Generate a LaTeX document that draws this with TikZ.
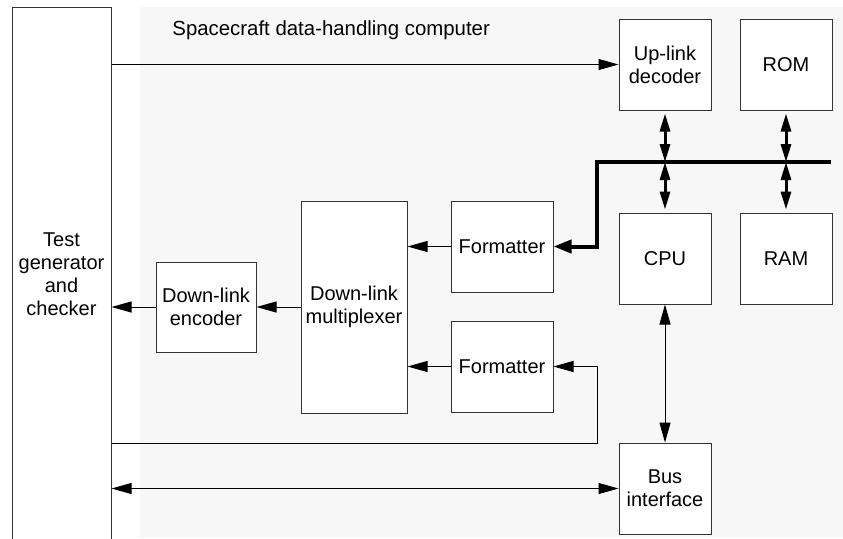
\documentclass[tikz,border=0pt]{standalone}
\usepackage{fontspec}
\setmainfont{Liberation Sans}
\usetikzlibrary{arrows.meta,positioning}
\tikzset{
node distance=60pt, % centre to centre, used with on grid
block/.style={draw=black!80, line width=0.5pt, fill=white, align=center,
  inner sep=1pt, minimum width=46pt, minimum height=45.5pt,
  font=\fontsize{10}{11.5}\selectfont},
link/.style={line width=0.5pt, -{Triangle[length=10pt,width=5.5pt]}},
duplex/.style={line width=0.5pt,
  {Triangle[length=10pt,width=5.5pt]}-{Triangle[length=10pt,width=5.5pt]}},
busline/.style={line width=2pt},
bustap/.style={line width=1.5pt, shorten <=1.5pt,
  {Triangle[length=9pt,width=5pt]}-{Triangle[length=9pt,width=5pt]}},
}

\begin{document}
\begin{tikzpicture}[x=0.5pt,y=-0.5pt,on grid]
   \useasboundingbox (0,0) rectangle (843,538);
   \fill[black!3] (140,7) rectangle (843,538);
   \node[anchor=west, inner sep=0pt, font=\fontsize{10.2}{12}\selectfont] (title) at (172,30) {Spacecraft data-handling computer};

   \node[block, minimum width=49.5pt, minimum height=267pt] (test) at (61.5,274) {Test\\generator\\and\\checker};
   \node[block] (uplink) at (665,64.5) {Up-link\\decoder};
   \node[block] (rom) [right=60.5pt of uplink] {ROM};
   \node[block] (cpu) [below=97pt of uplink] {CPU};
   \node[block] (ram) [right=60.5pt of cpu] {RAM};
   \node[block] (busif) [below=115pt of cpu] {Bus\\interface};
   \node[block, minimum width=51pt] (fmtA) at (502,246.5) {Formatter};
   \node[block, minimum width=51pt] (fmtB) [below=of fmtA] {Formatter};
   \node[block, minimum width=53pt, minimum height=106pt] (mux) at (354,307) {Down-link\\multiplexer};
   \node[block, minimum width=50pt, minimum height=45pt] (enc) [left=74pt of mux] {Down-link\\encoder};

   \coordinate (busR) at (831,162);
   \coordinate (busL) at (597,162);
   \coordinate (loop) at (597,443);

   % data bus and its taps
   \draw[busline, -{Triangle[length=9pt,width=6.5pt]}] (busR) -- (busL) |- (fmtA.east);
   \draw[bustap] (uplink.south) -- (uplink |- busR);
   \draw[bustap] (cpu.north) -- (cpu |- busR);
   \draw[bustap] (rom.south) -- (rom |- busR);
   \draw[bustap] (ram.north) -- (ram |- busR);

   % down-link chain
   \draw[link] (fmtA.west) -- (fmtA.west -| mux.east);
   \draw[link] (fmtB.west) -- (fmtB.west -| mux.east);
   \draw[link] (mux.west) -- (enc.east);
   \draw[link] (enc.west) -- (enc.west -| test.east);

   % test connections
   \draw[link] (test.east |- uplink.west) -- (uplink.west);
   \draw[link] (test.east |- loop) -- (loop) |- (fmtB.east);
   \draw[duplex] (test.east |- busif.west) -- (busif.west);
   \draw[duplex] (cpu.south) -- (busif.north);
\end{tikzpicture}
\end{document}
